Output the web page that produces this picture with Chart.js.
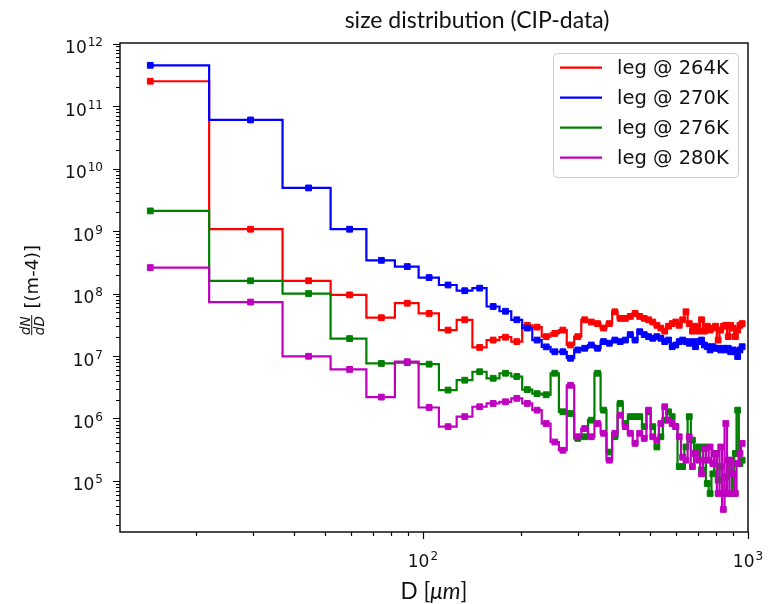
<!DOCTYPE html>
<html>
<head>
<meta charset="utf-8">
<script src="https://cdn.jsdelivr.net/npm/chart.js@4.4.1/dist/chart.umd.min.js"></script>
<style>
  html, body { margin: 0; padding: 0; background: #fff; }
  canvas { display: block; }
</style>
</head>
<body>
<canvas id="chart" width="772" height="604"></canvas>
<script>
// Bin centres of the CIP size spectrum [µm]
const diameters = [
  14.5, 29.5, 44.5, 59.5, 74.5, 89.5, 104.5, 119.5, 134.5, 149.5,
  164.5, 179.5, 194.5, 209.5, 224.5, 239.5, 254.5, 269.5, 284.5, 299.5,
  314.5, 329.5, 344.5, 359.5, 374.5, 389.5, 404.5, 419.5, 434.5, 449.5,
  464.5, 479.5, 494.5, 509.5, 524.5, 539.5, 554.5, 569.5, 584.5, 599.5,
  614.5, 629.5, 644.5, 659.5, 674.5, 689.5, 704.5, 719.5, 734.5, 749.5,
  764.5, 779.5, 794.5, 809.5, 824.5, 839.5, 854.5, 869.5, 884.5, 899.5,
  914.5, 929.5, 944.5, 959.5
];

// dN/dD [m^-4] per temperature leg
const dndd264 = [
  2.5e11, 1.07e9, 1.6e8, 9.5e7, 4.1e7, 7.0e7, 4.8e7, 2.6e7, 3.8e7, 1.37e7,
  1.8e7, 2.0e7, 1.7e7, 3.1e7, 2.9e7, 2.04e7, 2.3e7, 2.6e7, 1.5e7, 2.04e7,
  3.8e7, 3.5e7, 3.3e7, 2.8e7, 3.3e7, 5.1e7, 4.0e7, 4.0e7, 4.3e7, 4.8e7,
  4.3e7, 4.0e7, 3.8e7, 3.5e7, 3.1e7, 2.8e7, 2.5e7, 3.0e7, 3.3e7, 3.5e7,
  3.1e7, 3.8e7, 5.1e7, 3.3e7, 2.5e7, 3.0e7, 2.5e7, 3.8e7, 2.5e7, 3.0e7,
  2.6e7, 2.8e7, 3.0e7, 1.8e7, 2.6e7, 3.0e7, 3.1e7, 2.04e7, 3.1e7, 2.8e7,
  2.04e7, 2.6e7, 3.1e7, 3.3e7
];
const dndd270 = [
  4.5e11, 6.0e10, 4.9e9, 1.07e9, 3.4e8, 2.7e8, 1.8e8, 1.37e8, 1.11e8, 1.22e8,
  6.2e7, 5.2e7, 3.8e7, 2.8e7, 1.8e7, 1.4e7, 1.17e7, 1.17e7, 9.2e6, 1.25e7,
  1.33e7, 1.5e7, 1.33e7, 1.7e7, 1.6e7, 1.8e7, 1.7e7, 1.8e7, 2.2e7, 1.8e7,
  2.45e7, 2.2e7, 2.04e7, 1.92e7, 2.04e7, 1.92e7, 1.7e7, 1.8e7, 1.41e7, 1.5e7,
  1.7e7, 1.8e7, 1.7e7, 1.6e7, 1.7e7, 1.41e7, 1.7e7, 1.8e7, 1.5e7, 1.41e7,
  1.25e7, 1.41e7, 1.33e7, 1.33e7, 1.25e7, 1.33e7, 1.25e7, 1.33e7, 1.17e7, 1.25e7,
  1.17e7, 9.8e6, 1.25e7, 1.41e7
];
const dndd276 = [
  2.1e9, 1.6e8, 1.0e8, 1.9e7, 7.6e6, 7.8e6, 7.4e6, 2.85e6, 4.1e6, 5.6e6,
  4.4e6, 5.3e6, 4.7e6, 2.9e6, 2.5e6, 2.4e6, 5.3e6, 1.28e6, 1.2e6, 4.8e5,
  5.1e5, 9.4e5, 5.3e6, 1.36e6, 2.9e5, 5.1e5, 1.74e6, 8.3e5, 1.07e6, 1.07e6,
  1.07e6, 7.4e5, 1.28e6, 7.4e5, 3.5e5, 5.1e5, 9.4e5, 1.28e6, 1.07e6, 7.4e5,
  1.7e5, 1.7e5, 3.5e5, 1.07e6, 4.5e5, 2.75e5, 3.5e5, 1.5e5, 3.5e5, 9.1e4,
  6.3e4, 1.3e5, 2.75e5, 1.03e5, 1.7e5, 6.3e4, 1.16e5, 2.15e5, 1.3e5, 6.3e4,
  2.75e5, 1.36e6, 1.9e5, 2.15e5
];
const dndd280 = [
  2.6e8, 7.3e7, 9.9e6, 6.1e6, 2.2e6, 8.1e6, 1.5e6, 7.4e5, 1.07e6, 1.54e6,
  1.74e6, 1.85e6, 2.1e6, 1.74e6, 1.36e6, 8.3e5, 4.2e5, 3.1e5, 3.4e6, 5.1e5,
  6.9e5, 5.1e5, 8.3e5, 5.8e5, 2.15e5, 5.8e5, 1.13e6, 7.4e5, 5.8e5, 4.0e5,
  5.8e5, 4.8e5, 1.36e6, 5.1e5, 4.5e5, 8.3e5, 1.54e6, 9.4e5, 8.3e5, 7.4e5,
  5.1e5, 2.4e5, 2.15e5, 5.1e5, 1.7e5, 2.75e5, 2.15e5, 1.3e5, 3.3e5, 2.15e5,
  3.5e5, 1.9e5, 2.75e5, 6.3e4, 3.5e5, 3.5e4, 8.3e5, 6.3e4, 2.15e5, 1.3e5,
  6.3e4, 1.9e5, 2.75e5, 4.0e5
];

const seriesLabels = ['leg @ 264K', 'leg @ 270K', 'leg @ 276K', 'leg @ 280K'];
const seriesValues = [dndd264, dndd270, dndd276, dndd280];
const seriesColors = ['#ff0000', '#0000ff', '#008000', '#bf00bf'];

// Decade exponents that carry a tick label
const xTickExponents = [2, 3];
const yTickExponents = [5, 6, 7, 8, 9, 10, 11, 12];

const titleText = 'size distribution (CIP-data)';
const xLabelText = ['D [', 'μm', ']'];
const yLabelFraction = ['dN', 'dD'];
const yLabelText = ' [(m-4)]';

// Step path with the riser halfway between neighbouring bin centres (linear D)
function stepPath(xs, ys) {
  const pts = [];
  for (let i = 0; i < xs.length; i++) {
    pts.push({ x: xs[i], y: ys[i] });
    if (i < xs.length - 1) {
      const mid = (xs[i] + xs[i + 1]) / 2;
      pts.push({ x: mid, y: ys[i] }, { x: mid, y: ys[i + 1] });
    }
  }
  return pts;
}

const datasets = [];
seriesValues.forEach((vals, s) => {
  const base = (seriesValues.length - 1 - s) * 2;
  datasets.push({
    label: seriesLabels[s],
    data: stepPath(diameters, vals),
    showLine: true,
    borderColor: seriesColors[s],
    borderWidth: 2.2,
    borderJoinStyle: 'miter',
    pointRadius: 0,
    order: base + 1
  });
  datasets.push({
    label: seriesLabels[s] + ' markers',
    data: diameters.map((d, i) => ({ x: d, y: vals[i] })),
    showLine: false,
    pointStyle: 'rect',
    pointRadius: 4.1,
    borderWidth: 1,
    borderColor: seriesColors[s],
    backgroundColor: seriesColors[s],
    order: base
  });
});

const TICK_FONT = '"DejaVu Sans", sans-serif';
const TEXT_FONT = 'Lato, "Open Sans", sans-serif';

function isDecade(v) {
  const e = Math.round(Math.log10(v));
  return Math.abs(v - Math.pow(10, e)) < 1e-6 * Math.pow(10, e);
}
function isWholeMantissa(v) {
  const e = Math.floor(Math.log10(v) + 1e-9);
  const m = v / Math.pow(10, e);
  return Math.abs(m - Math.round(m)) < 1e-6;
}

// "10" with a raised exponent; anchor 'right' or 'center'
function drawPower(ctx, exp, x, baseY, anchor) {
  ctx.font = '17px ' + TICK_FONT;
  const wb = ctx.measureText('10').width;
  ctx.font = '12px ' + TICK_FONT;
  const we = ctx.measureText(String(exp)).width;
  const total = wb + 1 + we;
  const x0 = anchor === 'right' ? x - total : x - total / 2;
  ctx.textAlign = 'left';
  ctx.textBaseline = 'alphabetic';
  ctx.font = '17px ' + TICK_FONT;
  ctx.fillText('10', x0, baseY);
  ctx.font = '12px ' + TICK_FONT;
  ctx.fillText(String(exp), x0 + wb + 1, baseY - 7);
}

const axesDecor = {
  id: 'axesDecor',
  afterDraw(chart) {
    const { ctx, chartArea: a, scales } = chart;
    const xs = scales.x, ys = scales.y;
    ctx.save();
    ctx.fillStyle = '#000';
    ctx.strokeStyle = '#000';

    // tick marks (decades long, intermediate ones short)
    ctx.lineWidth = 1.2;
    ctx.beginPath();
    ys.ticks.forEach(t => {
      if (!isWholeMantissa(t.value)) return;
      const p = Math.round(ys.getPixelForValue(t.value)) + 0.5;
      if (p < a.top - 0.5 || p > a.bottom + 0.5) return;
      const len = isDecade(t.value) ? 7 : 4;
      ctx.moveTo(a.left - len, p);
      ctx.lineTo(a.left, p);
    });
    xs.ticks.forEach(t => {
      if (!isWholeMantissa(t.value)) return;
      const p = Math.round(xs.getPixelForValue(t.value)) + 0.5;
      if (p < a.left - 0.5 || p > a.right + 0.5) return;
      const len = isDecade(t.value) ? 7 : 4;
      ctx.moveTo(p, a.bottom);
      ctx.lineTo(p, a.bottom + len);
    });
    ctx.stroke();

    // frame
    ctx.lineWidth = 1.4;
    ctx.strokeRect(a.left, a.top, a.right - a.left, a.bottom - a.top);

    // tick labels
    ctx.fillStyle = '#111';
    yTickExponents.forEach(e => {
      const p = ys.getPixelForValue(Math.pow(10, e));
      drawPower(ctx, e, 103, p + 9.5, 'right');
    });
    xTickExponents.forEach(e => {
      const p = xs.getPixelForValue(Math.pow(10, e));
      drawPower(ctx, e, p, 566.5, 'center');
    });

    // title
    ctx.font = '23px ' + TEXT_FONT;
    ctx.textAlign = 'center';
    ctx.textBaseline = 'alphabetic';
    ctx.fillStyle = '#111';
    ctx.fillText(titleText, 477, 28);

    // x label: D [µm] with italic unit
    const xl = '22.5px ' + TEXT_FONT;
    const xli = 'italic 22.5px ' + TEXT_FONT;
    ctx.font = xl; const w1 = ctx.measureText(xLabelText[0]).width;
    ctx.font = xli; const w2 = ctx.measureText(xLabelText[1]).width;
    ctx.font = xl; const w3 = ctx.measureText(xLabelText[2]).width;
    let lx = (a.left + a.right) / 2 - (w1 + w2 + w3) / 2;
    ctx.textAlign = 'left';
    ctx.font = xl; ctx.fillText(xLabelText[0], lx, 599); lx += w1;
    ctx.font = xli; ctx.fillText(xLabelText[1], lx, 599); lx += w2;
    ctx.font = xl; ctx.fillText(xLabelText[2], lx, 599);

    // y label: rotated fraction dN/dD followed by unit
    ctx.save();
    ctx.translate(38, 290);
    ctx.rotate(-Math.PI / 2);
    const ff = 'italic 13.5px "DejaVu Sans", sans-serif';
    const uf = '18px "DejaVu Sans", sans-serif';
    ctx.font = ff;
    const fw = Math.max(ctx.measureText(yLabelFraction[0]).width, ctx.measureText(yLabelFraction[1]).width);
    ctx.font = uf;
    const uw = ctx.measureText(yLabelText).width;
    const start = -(fw + 2 + uw) / 2;
    ctx.font = ff;
    ctx.textAlign = 'center';
    ctx.fillText(yLabelFraction[0], start + fw / 2, -8.5);
    ctx.fillText(yLabelFraction[1], start + fw / 2, 6);
    ctx.fillRect(start, -6.8, fw + 1, 1);
    ctx.font = uf;
    ctx.textAlign = 'left';
    ctx.fillText(yLabelText, start + fw + 2, 0);
    ctx.restore();

    // legend
    const lg = { x: 553.5, y: 53.5, w: 185, h: 124, r: 4 };
    ctx.beginPath();
    ctx.moveTo(lg.x + lg.r, lg.y);
    ctx.arcTo(lg.x + lg.w, lg.y, lg.x + lg.w, lg.y + lg.h, lg.r);
    ctx.arcTo(lg.x + lg.w, lg.y + lg.h, lg.x, lg.y + lg.h, lg.r);
    ctx.arcTo(lg.x, lg.y + lg.h, lg.x, lg.y, lg.r);
    ctx.arcTo(lg.x, lg.y, lg.x + lg.w, lg.y, lg.r);
    ctx.closePath();
    ctx.fillStyle = 'rgba(255,255,255,0.8)';
    ctx.fill();
    ctx.strokeStyle = '#cccccc';
    ctx.lineWidth = 1;
    ctx.stroke();
    ctx.font = '19.5px "DejaVu Sans", sans-serif';
    ctx.textBaseline = 'middle';
    ctx.textAlign = 'left';
    seriesLabels.forEach((lab, i) => {
      const yy = 67.7 + i * 30;
      ctx.strokeStyle = seriesColors[i];
      ctx.lineWidth = 2.2;
      ctx.beginPath();
      ctx.moveTo(560, yy);
      ctx.lineTo(602, yy);
      ctx.stroke();
      ctx.fillStyle = '#111';
      ctx.fillText(lab, 617, yy + 1);
    });
    ctx.restore();
  }
};

new Chart(document.getElementById('chart'), {
  type: 'scatter',
  data: { datasets },
  options: {
    responsive: false,
    devicePixelRatio: 1,
    animation: false,
    events: [],
    layout: { padding: { left: 0, top: 43, right: 24, bottom: 0 } },
    plugins: { legend: { display: false }, tooltip: { enabled: false }, title: { display: false } },
    scales: {
      x: {
        type: 'logarithmic',
        min: 11.7,
        max: 1000,
        grid: { display: false },
        border: { display: false },
        ticks: { display: false },
        afterFit(scale) { scale.height = 72; }
      },
      y: {
        type: 'logarithmic',
        min: Math.pow(10, 4.183),
        max: Math.pow(10, 12.01),
        grid: { display: false },
        border: { display: false },
        ticks: { display: false },
        afterFit(scale) { scale.width = 120; }
      }
    }
  },
  plugins: [axesDecor]
});
</script>
</body>
</html>
